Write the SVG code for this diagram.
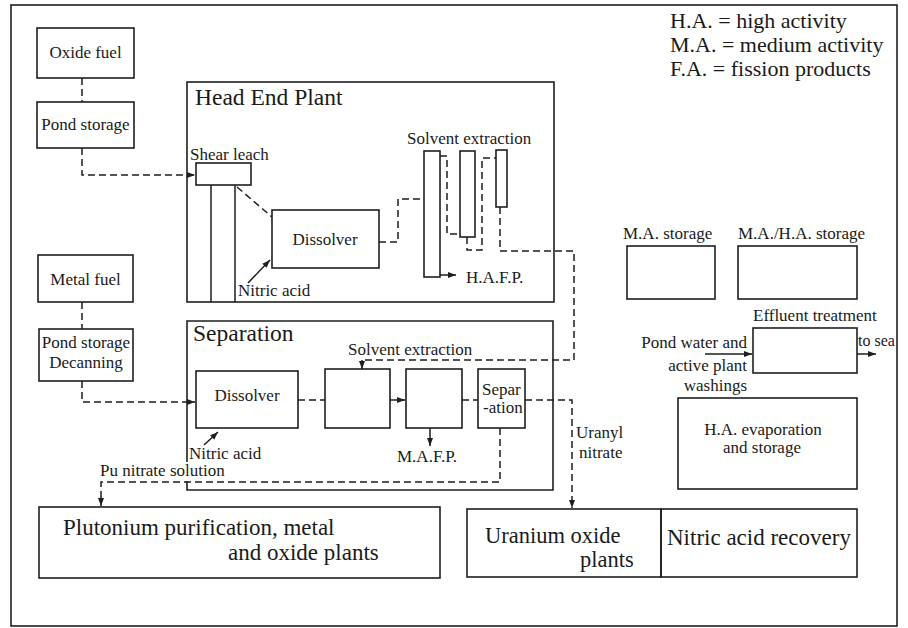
<svg xmlns="http://www.w3.org/2000/svg" width="908" height="628" viewBox="0 0 908 628">
<style>
  .box { fill: none; stroke: #1e1e1e; stroke-width: 1.6; }
  .t { font-family: "Liberation Serif", "DejaVu Serif", serif; font-size: 17px; fill: #1a1a1a; }
  .big { font-size: 23px; }
  .title { font-size: 23.5px; }
  .leg { font-size: 22px; }
  .m { text-anchor: middle; }
  .e { text-anchor: end; }
  .dash { fill: none; stroke: #1e1e1e; stroke-width: 1.5; stroke-dasharray: 7 4; }
  .solid { fill: none; stroke: #1e1e1e; stroke-width: 1.5; }
</style>
<defs>
  <marker id="arr" markerUnits="userSpaceOnUse" markerWidth="9" markerHeight="7" refX="8" refY="3" orient="auto">
    <path d="M0,0 L8,3 L0,6 z" fill="#1e1e1e"/>
  </marker>
</defs>
<rect x="0" y="0" width="908" height="628" fill="#ffffff"/>
<rect class="box" x="11" y="5" width="886" height="621"/>

<g id="legend">
  <text class="t leg" x="670" y="28">H.A. = high activity</text>
  <text class="t leg" x="670" y="52">M.A. = medium activity</text>
  <text class="t leg" x="670" y="76">F.A. = fission products</text>
</g>

<g id="oxide-fuel">
  <rect class="box" x="37" y="28" width="97" height="50"/>
  <text class="t m" x="85.5" y="58">Oxide fuel</text>
</g>
<g id="pond-storage">
  <rect class="box" x="37" y="102" width="97" height="46"/>
  <text class="t m" x="85.5" y="130">Pond storage</text>
</g>
<g id="metal-fuel">
  <rect class="box" x="38" y="255" width="95" height="47"/>
  <text class="t m" x="85.5" y="285">Metal fuel</text>
</g>
<g id="pond-storage-decanning">
  <rect class="box" x="39" y="329" width="94" height="52"/>
  <text class="t m" x="86" y="348">Pond storage</text>
  <text class="t m" x="86" y="368">Decanning</text>
</g>

<g id="head-end-plant">
  <rect class="box" x="187" y="82" width="367" height="220"/>
  <text class="t title" x="195" y="105">Head End Plant</text>
</g>
<g id="shear-leach">
  <text class="t" x="190" y="160">Shear leach</text>
  <rect class="box" x="196" y="163" width="55" height="22"/>
  <line class="solid" x1="211" y1="185" x2="211" y2="302"/>
  <line class="solid" x1="235" y1="185" x2="235" y2="302"/>
</g>
<g id="dissolver-he">
  <rect class="box" x="272" y="210" width="107" height="58"/>
  <text class="t m" x="325" y="245">Dissolver</text>
</g>
<g id="nitric-acid-he">
  <text class="t" x="238" y="296">Nitric acid</text>
</g>
<g id="solvent-extraction-he">
  <text class="t" x="407" y="144">Solvent extraction</text>
  <rect class="box" x="424" y="151" width="16" height="126"/>
  <rect class="box" x="460" y="151" width="15" height="86"/>
  <rect class="box" x="496" y="150" width="11" height="57"/>
</g>
<g id="hafp">
  <text class="t" x="466" y="283">H.A.F.P.</text>
</g>

<g id="separation">
  <path class="box" d="M187,462 V321 H553 V490 H187 V481"/>
  <text class="t title" x="193" y="341">Separation</text>
</g>
<g id="dissolver-sep">
  <rect class="box" x="196" y="371" width="102" height="57"/>
  <text class="t m" x="247" y="401">Dissolver</text>
</g>
<g id="nitric-acid-sep">
  <text class="t" x="189" y="459">Nitric acid</text>
</g>
<g id="solvent-extraction-sep">
  <text class="t" x="348" y="355">Solvent extraction</text>
  <rect class="box" x="325" y="369" width="65" height="59"/>
  <rect class="box" x="406" y="369" width="56" height="59"/>
</g>
<g id="mafp">
  <text class="t" x="397" y="462">M.A.F.P.</text>
</g>
<g id="separ-ation">
  <rect class="box" x="478" y="369" width="47" height="59"/>
  <text class="t" x="482" y="395">Separ</text>
  <text class="t" x="483" y="413">-ation</text>
</g>
<g id="pu-nitrate-label">
  <text class="t" x="100" y="476">Pu nitrate solution</text>
</g>
<g id="uranyl-label">
  <text class="t" x="576" y="438">Uranyl</text>
  <text class="t" x="579" y="458">nitrate</text>
</g>

<g id="ma-storage">
  <text class="t" x="623" y="239">M.A. storage</text>
  <rect class="box" x="627" y="246" width="88" height="53"/>
</g>
<g id="maha-storage">
  <text class="t" x="738" y="239">M.A./H.A. storage</text>
  <rect class="box" x="738" y="246" width="119" height="53"/>
</g>
<g id="effluent-treatment">
  <text class="t" x="753" y="321">Effluent treatment</text>
  <rect class="box" x="753" y="328" width="104" height="45"/>
  <text class="t" x="858" y="346" style="font-size:16px">to sea</text>
</g>
<g id="pond-water-label">
  <text class="t e" x="747" y="348">Pond water and</text>
  <text class="t e" x="747" y="371">active plant</text>
  <text class="t e" x="747" y="391">washings</text>
</g>
<g id="ha-evaporation">
  <rect class="box" x="678" y="398" width="179" height="91"/>
  <text class="t m" x="763" y="435">H.A. evaporation</text>
  <text class="t m" x="762" y="453">and storage</text>
</g>

<g id="plutonium-plants">
  <rect class="box" x="39" y="507" width="401" height="71"/>
  <text class="t big" x="63" y="535">Plutonium purification, metal</text>
  <text class="t big" x="228" y="560">and oxide plants</text>
</g>
<g id="uranium-oxide-plants">
  <rect class="box" x="467" y="509" width="194" height="68"/>
  <text class="t big" x="485" y="543" style="font-size:22.5px">Uranium oxide</text>
  <text class="t big" x="580" y="567" style="font-size:22.5px">plants</text>
</g>
<g id="nitric-acid-recovery">
  <rect class="box" x="661" y="509" width="196" height="68"/>
  <text class="t big" x="667" y="545">Nitric acid recovery</text>
</g>

<g id="connectors">
  <path class="dash" d="M82,78 V102"/>
  <path class="dash" d="M82,148 V175 H195" marker-end="url(#arr)"/>
  <path class="dash" d="M237,187 L272,217"/>
  <path class="solid" d="M248,283 L270,260" marker-end="url(#arr)"/>
  <path class="dash" d="M379,242 H398 V199 H424"/>
  <path class="solid" d="M440,275 H456" marker-end="url(#arr)"/>
  <path class="dash" d="M440,156 H447 V234 H460"/>
  <path class="dash" d="M467,237 V250 H482 V158 H496"/>
  <path class="dash" d="M500,207 V251 H574 V360 H362"/>
  <path class="solid" d="M362,360 V369" marker-end="url(#arr)"/>
  <path class="dash" d="M82,302 V329"/>
  <path class="dash" d="M82,381 V402 H195" marker-end="url(#arr)"/>
  <path class="solid" d="M204,445 L218,432" marker-end="url(#arr)"/>
  <path class="dash" d="M298,400 H325"/>
  <path class="solid" d="M390,400 H405" marker-end="url(#arr)"/>
  <path class="solid" d="M430,428 V446" marker-end="url(#arr)"/>
  <path class="dash" d="M462,400 H478"/>
  <path class="dash" d="M525,400 H572 V508" marker-end="url(#arr)"/>
  <path class="dash" d="M500,428 V482 H101 V506" marker-end="url(#arr)"/>
  <path class="solid" d="M705,354 H752" marker-end="url(#arr)"/>
  <path class="solid" d="M857,354 H876" marker-end="url(#arr)"/>
</g>
</svg>
